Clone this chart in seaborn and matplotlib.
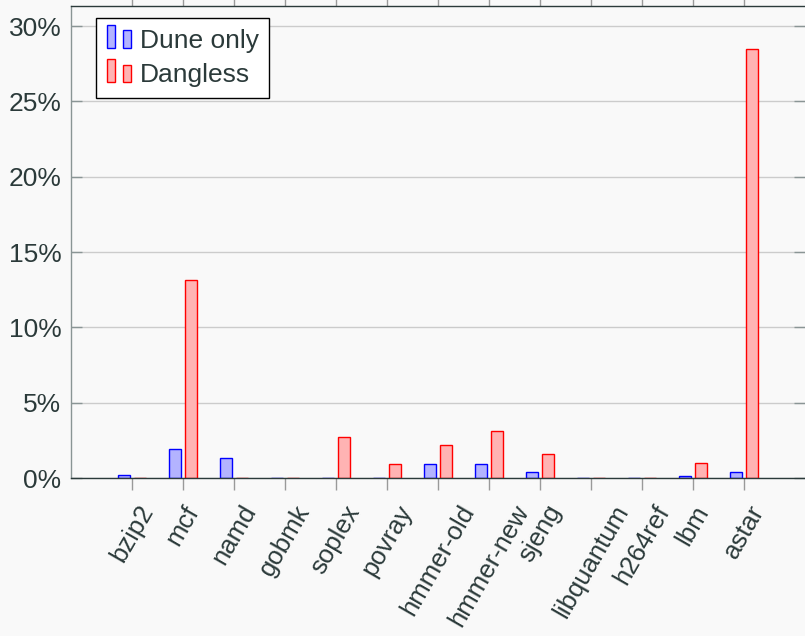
import pandas as pd
import numpy as np
import matplotlib
matplotlib.use("Agg")
import matplotlib.pyplot as plt
import seaborn as sns
from matplotlib.patches import Rectangle
from matplotlib.legend_handler import HandlerBase

# ---------------------------
# DATA (overhead in %)
# ---------------------------

benchmarks = ["bzip2", "mcf", "namd", "gobmk", "soplex", "povray",
              "hmmer-old", "hmmer-new", "sjeng", "libquantum",
              "h264ref", "lbm", "astar"]
dune_only = [0.2, 1.9, 1.3, 0.0, 0.0, 0.0, 0.9, 0.9, 0.4, 0.0, 0.0, 0.1, 0.4]
dangless = [0.0, 13.15, 0.0, 0.0, 2.7, 0.9, 2.2, 3.1, 1.6, 0.0, 0.0, 1.0, 28.45]
series = ["Dune only", "Dangless"]
y_ticks = [0, 5, 10, 15, 20, 25, 30]

df = pd.DataFrame({
    "benchmark": benchmarks * 2,
    "overhead": dune_only + dangless,
    "config": [series[0]] * len(benchmarks) + [series[1]] * len(benchmarks),
})

# ---------------------------
# STYLE
# ---------------------------

sns.set_theme(style="white")
plt.rcParams["font.family"] = ["Liberation Sans", "DejaVu Sans"]

bg = "#f9f9f9"
txt = "#2b3a3a"
fills = ["#b3b3ff", "#ffb3b3"]
edges = ["#0000ff", "#ff0000"]

fig = plt.figure(figsize=(8.05, 6.36), dpi=100, facecolor=bg)
ax = fig.add_axes([71 / 805, 1 - 478 / 636, 734 / 805, (478 - 6) / 636])
ax.set_facecolor(bg)

sns.barplot(data=df, x="benchmark", y="overhead", hue="config",
            palette=fills, width=0.63, gap=0.29, ax=ax, legend=False,
            saturation=1)

for cont, ec in zip(ax.containers, edges):
    for bar in cont:
        bar.set_edgecolor(ec)
        bar.set_linewidth(1.0)

ax.set_xlim(-1.2, 13.2)
ax.set_ylim(0, 31.33)
ax.set_yticks(y_ticks)
ax.set_yticklabels([f"{v}%" for v in y_ticks])
ax.set_xlabel("")
ax.set_ylabel("")

ax.yaxis.grid(True, color="#cccccc", linewidth=1.0)
ax.set_axisbelow(True)

ax.tick_params(axis="y", direction="in", length=8, width=1, color="#8a9595",
               left=True, right=True, labelsize=19, labelcolor=txt, pad=7)
ax.tick_params(axis="x", direction="out", length=8.6, width=1, color="#9a9a9a",
               bottom=True, top=True, labelsize=18.5, labelcolor=txt, pad=8)
plt.setp(ax.get_xticklabels(), rotation=60)

ax.spines["left"].set_color("#8a9595")
ax.spines["bottom"].set_color(txt)
ax.spines["top"].set_color(txt)
ax.spines["right"].set_visible(False)
for s in ["left", "bottom", "top"]:
    ax.spines[s].set_linewidth(1.0)

# ---------------------------
# LEGEND (two small bars per entry)
# ---------------------------


class TwoBars(HandlerBase):
    # sizes in points (legend handle box units)
    def create_artists(self, legend, orig_handle, xdescent, ydescent,
                       width, height, fontsize, trans):
        fc = orig_handle.get_facecolor()
        ec = orig_handle.get_edgecolor()
        w = 6.3
        r1 = Rectangle((-xdescent, -ydescent), w, 16.5, facecolor=fc,
                       edgecolor=ec, linewidth=1.0, transform=trans)
        r2 = Rectangle((-xdescent + 11.5, -ydescent), w, 12.3, facecolor=fc,
                       edgecolor=ec, linewidth=1.0, transform=trans)
        return [r1, r2]


handles = [Rectangle((0, 0), 1, 1, facecolor=f, edgecolor=e)
           for f, e in zip(fills, edges)]
leg = ax.legend(handles, series, handler_map={Rectangle: TwoBars()},
                loc="upper left", bbox_to_anchor=(96 / 805, 1 - 18 / 636),
                bbox_transform=fig.transFigure, borderaxespad=0,
                fancybox=False, framealpha=1, edgecolor="black",
                fontsize=19, handlelength=1.0, handletextpad=0.25,
                labelspacing=0.4, borderpad=0.4)
leg.get_frame().set_linewidth(1.0)
for t in leg.get_texts():
    t.set_color(txt)

fig.savefig("out.png", dpi=100, facecolor=bg)
